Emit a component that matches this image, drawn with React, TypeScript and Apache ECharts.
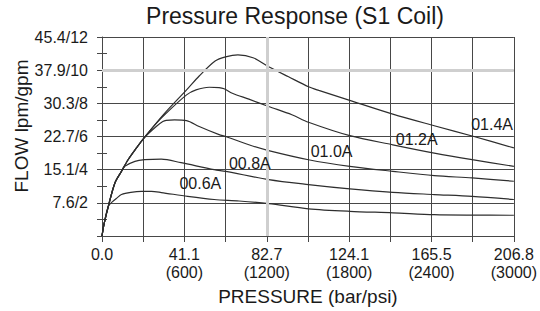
import React, { useEffect, useRef } from "react";
import * as echarts from "echarts";

// Tick labels
const xTickLabels = ["0.0", "41.1\n(600)", "82.7\n(1200)", "124.1\n(1800)", "165.5\n(2400)", "206.8\n(3000)"];
const yTickLabels = ["", "7.6/2", "15.1/4", "22.7/6", "30.3/8", "37.9/10", "45.4/12"];

// Series: [pressure psi, flow gpm]
const seriesNames = ["00.6A", "00.8A", "01.0A", "01.2A", "01.4A"];
const flow06A = [[0, 0], [14, 0.69], [46, 1.79], [75, 2.06], [110, 2.3], [142, 2.5], [210, 2.63], [287, 2.69], [360, 2.69], [432, 2.62], [624, 2.39], [817, 2.2], [998, 2.11], [1214, 1.95], [1504, 1.64], [1805, 1.49], [2118, 1.4], [2420, 1.29], [2696, 1.26], [3000, 1.25]];
const flow08A = [[0, 0], [14, 0.69], [46, 1.79], [94, 3.2], [142, 3.9], [166, 4.2], [240, 4.5], [311, 4.6], [432, 4.64], [576, 4.42], [817, 4.0], [901, 3.9], [1214, 3.4], [1504, 3.1], [1805, 2.84], [2118, 2.63], [2420, 2.5], [2696, 2.39], [3000, 2.2]];
const flow10A = [[0, 0], [14, 0.69], [46, 1.79], [94, 3.2], [142, 3.9], [190, 4.6], [251, 5.31], [304, 5.89], [395, 6.6], [443, 6.9], [467, 6.97], [528, 7.0], [616, 6.96], [708, 6.6], [853, 6.11], [901, 6.0], [1070, 5.5], [1214, 5.15], [1504, 4.6], [1805, 4.2], [2118, 3.9], [2420, 3.64], [2696, 3.5], [3000, 3.3]];
const flow12A = [[0, 0], [14, 0.69], [46, 1.79], [94, 3.2], [142, 3.9], [190, 4.6], [251, 5.31], [304, 5.89], [395, 6.79], [467, 7.4], [616, 8.51], [685, 8.81], [781, 8.97], [853, 8.95], [889, 8.88], [949, 8.61], [1070, 8.25], [1214, 7.81], [1383, 7.31], [1504, 6.86], [1805, 6.05], [2118, 5.5], [2420, 5.0], [2696, 4.6], [3000, 4.2]];
const flow14A = [[0, 0], [14, 0.69], [46, 1.79], [94, 3.2], [142, 3.9], [190, 4.6], [251, 5.31], [304, 5.89], [395, 6.81], [467, 7.5], [616, 8.81], [708, 9.65], [824, 10.55], [900, 10.8], [990, 10.92], [1100, 10.75], [1214, 10.21], [1359, 9.6], [1504, 9.0], [1579, 8.78], [1793, 8.21], [2118, 7.35], [2420, 6.65], [2709, 6.0], [3000, 5.31]];
const allFlows = [flow06A, flow08A, flow10A, flow12A, flow14A];

// Curve label anchors in data units [psi, gpm]
const labelAnchors = [[716, 3.18], [1077, 4.38], [1672, 5.08], [2292, 5.83], [2841, 6.75]];

// Highlighted (light) reference lines in data units
const highlightY = [10];
const highlightX = [1200];

const FONT = "'Liberation Sans', Arial, Helvetica, sans-serif";
const TEXT = "#1a1a1a";
const GRID = "#474747";
const CURVE = "#2e2e2e";

export default function App() {
  const ref = useRef<HTMLDivElement>(null);
  useEffect(() => {
    if (!ref.current) return;
    const chart = echarts.init(ref.current, undefined, { renderer: "svg" });
    const series: any[] = allFlows.map((d, i) => ({
      type: "line",
      name: seriesNames[i],
      data: d,
      smooth: 0.3,
      showSymbol: false,
      symbol: "none",
      z: 3,
      lineStyle: { color: CURVE, width: 1.2 },
      emphasis: { disabled: true },
      markPoint: {
        silent: true,
        symbol: "circle",
        symbolSize: 1,
        itemStyle: { color: "transparent" },
        label: {
          show: true,
          position: "inside",
          formatter: seriesNames[i],
          fontFamily: FONT,
          fontSize: 16,
          color: TEXT,
        },
        data: [{ coord: labelAnchors[i] }],
      },
    }));
    series.push({
      type: "line",
      data: [],
      z: 1,
      markLine: {
        silent: true,
        symbol: "none",
        label: { show: false },
        lineStyle: { color: "#cfcfcf", width: 3, type: "solid" },
        data: [...highlightY.map((v) => ({ yAxis: v })), ...highlightX.map((v) => ({ xAxis: v }))],
      },
    });
    chart.setOption({
      animation: false,
      textStyle: { fontFamily: FONT },
      grid: { left: 102, top: 37, width: 415, height: 199, containLabel: false },
      graphic: [
        {
          type: "text",
          x: 295,
          y: 16,
          style: {
            text: "Pressure Response (S1 Coil)",
            textAlign: "center",
            textVerticalAlign: "middle",
            fontFamily: FONT,
            fontSize: 23,
            fill: TEXT,
          },
        },
        {
          type: "text",
          x: 21,
          y: 126,
          rotation: Math.PI / 2,
          style: {
            text: "FLOW lpm/gpm",
            textAlign: "center",
            textVerticalAlign: "middle",
            fontFamily: FONT,
            fontSize: 19,
            fill: TEXT,
          },
        },
      ],
      xAxis: {
        type: "value",
        min: 0,
        max: 3000,
        interval: 300,
        axisLine: { show: true, lineStyle: { color: GRID, width: 1 } },
        axisTick: { show: true, length: 6, lineStyle: { color: GRID, width: 1 } },
        splitLine: { show: true, lineStyle: { color: GRID, width: 1 } },
        axisLabel: {
          margin: 9,
          fontSize: 16,
          lineHeight: 18,
          color: TEXT,
          fontFamily: FONT,
          formatter: (v: number) => (v % 600 === 0 ? xTickLabels[Math.round(v / 600)] : ""),
        },
        name: "PRESSURE (bar/psi)",
        nameLocation: "middle",
        nameGap: 51,
        nameTextStyle: { fontSize: 19, color: TEXT, fontFamily: FONT },
      },
      yAxis: [
        {
          type: "value",
          min: 0,
          max: 12,
          interval: 2,
          axisLine: { show: true, lineStyle: { color: GRID, width: 1 } },
          axisTick: { show: true, length: 5, lineStyle: { color: GRID, width: 1 } },
          minorTick: { show: true, splitNumber: 2, length: 5, lineStyle: { color: GRID, width: 1 } },
          splitLine: { show: true, lineStyle: { color: GRID, width: 1 } },
          axisLabel: {
            margin: 14,
            fontSize: 16,
            color: TEXT,
            fontFamily: FONT,
            formatter: (v: number) => yTickLabels[Math.round(v / 2)] ?? "",
          },
        },
        {
          type: "value",
          min: 0,
          max: 12,
          interval: 2,
          position: "left",
          axisLine: { show: false },
          axisTick: { show: false, inside: true },
          minorTick: { show: true, splitNumber: 2, length: 5, lineStyle: { color: GRID, width: 1 } },
          splitLine: { show: false },
          axisLabel: { show: false },
        },
      ],
      series,
    });
    return () => chart.dispose();
  }, []);
  return (
    <div
      ref={ref}
      style={{ position: "absolute", left: 0, top: 0, width: 540, height: 311, background: "#fff" }}
    />
  );
}
